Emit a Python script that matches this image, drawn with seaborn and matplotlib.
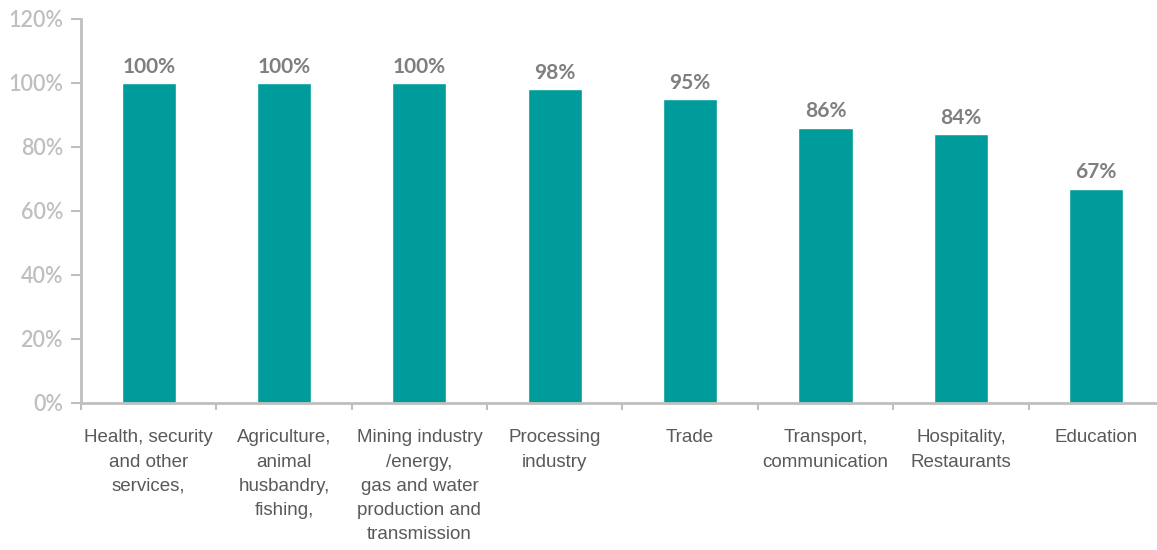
import matplotlib
matplotlib.use("Agg")
import matplotlib.pyplot as plt
from matplotlib.ticker import FixedLocator, FuncFormatter
import seaborn as sns
import pandas as pd

categories = [
    "Health, security\nand other\nservices,",
    "Agriculture,\nanimal\nhusbandry,\nfishing,",
    "Mining industry\n/energy,\ngas and water\nproduction and\ntransmission",
    "Processing\nindustry",
    "Trade",
    "Transport,\ncommunication",
    "Hospitality,\nRestaurants",
    "Education",
]
shares = [100, 100, 100, 98, 95, 86, 84, 67]
value_labels = ["100%", "100%", "100%", "98%", "95%", "86%", "84%", "67%"]
y_ticks = [0, 20, 40, 60, 80, 100, 120]

df = pd.DataFrame({"sector": categories, "share": shares})

sns.set_theme(style="white")
plt.rcParams["font.family"] = ["Lato", "DejaVu Sans"]

fig = plt.figure(figsize=(11.57, 5.5), dpi=100)
ax = fig.add_axes([0.070, 0.2673, 0.936, 0.6982])

teal = "#009B9B"
axis_grey = "#BFBFBF"

sns.barplot(data=df, x="sector", y="share", color=teal, width=0.4,
            saturation=1, ax=ax)

n = len(categories)
ax.set_xlim(-0.5, n - 0.5)
ax.set_ylim(0, 120)
ax.set_xlabel("")
ax.set_ylabel("")

# value labels above bars
for i, (v, lab) in enumerate(zip(shares, value_labels)):
    ax.text(i, v + 2.0, lab, ha="center", va="bottom", fontsize=15,
            fontweight="bold", color="#7F7F7F", family="Lato")

# y axis
ax.yaxis.set_major_locator(FixedLocator(y_ticks))
ax.yaxis.set_major_formatter(FuncFormatter(lambda v, p: f"{int(v)}%"))
ax.tick_params(axis="y", which="major", length=7, width=1.5, color=axis_grey,
               labelcolor=axis_grey, labelsize=15.5, pad=6, left=True)
for t in ax.get_yticklabels():
    t.set_fontweight("semibold")

# x axis: labels at centres, tick marks at category boundaries
ax.set_xticks(range(n))
ax.set_xticklabels(categories, fontsize=13.5, color="#595959",
                   family=["Liberation Sans Narrow", "Liberation Sans", "DejaVu Sans"],
                   linespacing=1.55, va="top", ha="center")
ax.tick_params(axis="x", which="major", length=0, pad=19)
ax.set_xticks([i - 0.5 for i in range(n + 1)], minor=True)
ax.tick_params(axis="x", which="minor", length=5, width=1.5, color=axis_grey,
               bottom=True)

for side in ["top", "right"]:
    ax.spines[side].set_visible(False)
for side in ["left", "bottom"]:
    ax.spines[side].set_color(axis_grey)
    ax.spines[side].set_linewidth(2)

fig.savefig("out.png", dpi=100, facecolor="white")
